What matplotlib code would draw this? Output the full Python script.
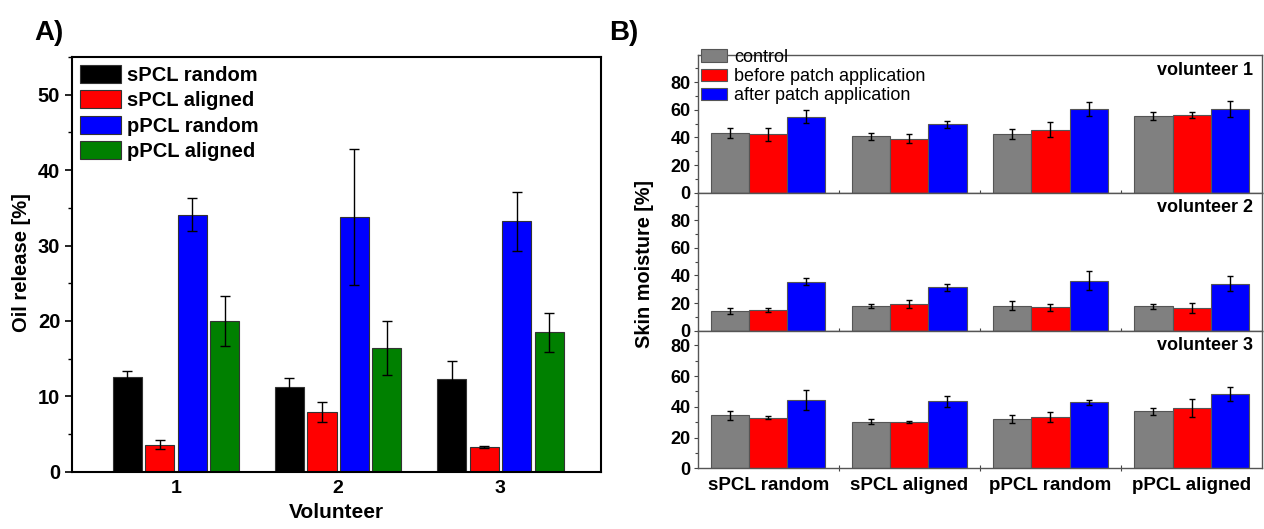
import numpy as np
import matplotlib
matplotlib.use("Agg")
import matplotlib.pyplot as plt
from matplotlib.ticker import MultipleLocator, FixedLocator, NullFormatter

plt.rcParams['font.family'] = ['Liberation Sans', 'DejaVu Sans']

# ---- panel A: oil release ----
volunteers = ['1', '2', '3']
oil_series = ['sPCL random', 'sPCL aligned', 'pPCL random', 'pPCL aligned']
oil_colors = ['#000000', '#ff0000', '#0000ff', '#008000']
oil_mean = [
    [12.6, 11.3, 12.3],   # sPCL random
    [3.6, 7.9, 3.3],      # sPCL aligned
    [34.1, 33.8, 33.2],   # pPCL random
    [20.0, 16.4, 18.5],   # pPCL aligned
]
oil_err = [
    [0.8, 1.2, 2.4],
    [0.6, 1.3, 0.15],
    [2.2, 9.0, 3.9],
    [3.3, 3.6, 2.6],
]

# ---- panel B: skin moisture ----
patch_types = ['sPCL random', 'sPCL aligned', 'pPCL random', 'pPCL aligned']
moist_series = ['control', 'before patch application', 'after patch application']
moist_colors = ['#808080', '#ff0000', '#0000ff']
moist_mean = {
    'volunteer 1': [[42.9, 40.9, 42.2, 55.2],
                    [42.2, 39.0, 45.5, 56.3],
                    [54.9, 49.4, 60.4, 60.2]],
    'volunteer 2': [[14.2, 18.0, 18.0, 17.6],
                    [15.0, 19.4, 16.9, 16.4],
                    [35.6, 31.3, 36.1, 34.1]],
    'volunteer 3': [[34.6, 30.3, 32.3, 37.0],
                    [32.9, 30.3, 33.3, 39.2],
                    [44.4, 43.5, 42.9, 48.1]],
}
moist_err = {
    'volunteer 1': [[3.6, 2.6, 3.6, 3.0],
                    [4.6, 3.2, 5.6, 2.0],
                    [4.6, 2.3, 4.8, 5.8]],
    'volunteer 2': [[2.1, 1.4, 3.3, 1.6],
                    [1.7, 3.0, 2.6, 3.5],
                    [2.5, 2.6, 6.8, 5.2]],
    'volunteer 3': [[2.9, 1.6, 2.7, 2.3],
                    [1.1, 0.6, 3.1, 6.0],
                    [6.3, 3.7, 1.6, 4.5]],
}
moist_ylim = {'volunteer 1': 99.5, 'volunteer 2': 100, 'volunteer 3': 89.5}

fig = plt.figure(figsize=(12.64, 5.29), dpi=100)

# ------------------- A -------------------
axA = fig.add_axes([0.057, 0.108, 0.4185, 0.7845])
x = np.arange(1, len(volunteers) + 1)
w = 0.18
step = 0.2
for i, name in enumerate(oil_series):
    axA.bar(x + (i - 1.5) * step, oil_mean[i], w, color=oil_colors[i],
            edgecolor='#333333', linewidth=0.8, label=name,
            yerr=oil_err[i], error_kw=dict(ecolor='black', elinewidth=1.0,
                                            capsize=3.5, capthick=1.0))
axA.set_xlim(0.36, 3.62)
axA.set_ylim(0, 55)
axA.set_xticks(x)
axA.set_xticklabels(volunteers, fontsize=14, fontweight='bold')
axA.yaxis.set_major_locator(MultipleLocator(10))
axA.yaxis.set_minor_locator(MultipleLocator(5))
axA.tick_params(axis='y', which='major', labelsize=14.5, length=5, width=1.2, direction='out')
axA.tick_params(axis='y', which='minor', length=3, width=1.0, direction='out')
axA.tick_params(axis='x', length=0, pad=6)
for t in axA.get_yticklabels():
    t.set_fontweight('bold')
for s in axA.spines.values():
    s.set_linewidth(1.5)
axA.set_xlabel('Volunteer', fontsize=15, fontweight='bold', labelpad=4)
fig.text(0.017, 0.503, 'Oil release [%]', rotation=90, fontsize=14.5,
         fontweight='bold', ha='center', va='center')
axA.legend(loc='upper left', bbox_to_anchor=(0.0, 1.0), frameon=False,
           prop=dict(size=14.5, weight='bold'), handlelength=2.05,
           handleheight=1.0, labelspacing=0.27, handletextpad=0.3,
           borderaxespad=0.25, borderpad=0.15)
fig.text(0.027, 0.925, 'A)', fontsize=20, fontweight='bold', ha='left', va='baseline')

# ------------------- B -------------------
bottoms = [0.6357, 0.3749, 0.1147]
heights = [0.2603, 0.2609, 0.2601]
xb = np.arange(1, len(patch_types) + 1)
wb = 0.27
axes_b = []
for k, vol in enumerate(['volunteer 1', 'volunteer 2', 'volunteer 3']):
    ax = fig.add_axes([0.552, bottoms[k], 0.4465, heights[k]])
    axes_b.append(ax)
    for j, name in enumerate(moist_series):
        ax.bar(xb + (j - 1) * wb, moist_mean[vol][j], wb, color=moist_colors[j],
               edgecolor='#555555', linewidth=0.8, label=name,
               yerr=moist_err[vol][j], error_kw=dict(ecolor='black', elinewidth=1.0,
                                                     capsize=2.5, capthick=1.0))
    ax.set_xlim(0.5, 4.5)
    ax.set_ylim(0, moist_ylim[vol])
    ax.yaxis.set_major_locator(FixedLocator([0, 20, 40, 60, 80]))
    ax.yaxis.set_minor_locator(FixedLocator([10, 30, 50, 70, 90]))
    ax.tick_params(axis='y', which='major', labelsize=13, length=3, width=0.8,
                   direction='out', colors='#444444', labelcolor='black', pad=2)
    ax.tick_params(axis='y', which='minor', length=2, width=0.8, direction='out',
                   colors='#444444')
    for t in ax.get_yticklabels():
        t.set_fontweight('bold')
    ax.xaxis.set_major_locator(FixedLocator([1.5, 2.5, 3.5]))
    ax.xaxis.set_major_formatter(NullFormatter())
    ax.tick_params(axis='x', which='major', length=4, width=0.8, direction='inout',
                   colors='#444444')
    for s in ax.spines.values():
        s.set_linewidth(1.0)
        s.set_color('#555555')
    ax.text(0.984, 0.89, vol, transform=ax.transAxes, ha='right', va='center',
            fontsize=13, fontweight='bold')

axB3 = axes_b[2]
axB3.xaxis.set_minor_locator(FixedLocator(xb))
axB3.set_xticks(xb, minor=True)
axB3.set_xticklabels(patch_types, minor=True, fontsize=13.5, fontweight='bold')
axB3.tick_params(axis='x', which='minor', length=0, pad=6)

axes_b[0].legend(loc='upper left', bbox_to_anchor=(0.0, 1.07), frameon=False,
                 prop=dict(size=13), handlelength=1.4, handleheight=0.7,
                 labelspacing=0.12, handletextpad=0.4, borderaxespad=0.0,
                 borderpad=0.2)
fig.text(0.510, 0.501, 'Skin moisture [%]', rotation=90, fontsize=14.3,
         fontweight='bold', ha='center', va='center')
fig.text(0.482, 0.925, 'B)', fontsize=20, fontweight='bold', ha='left', va='baseline')

fig.savefig('out.png', dpi=100)
